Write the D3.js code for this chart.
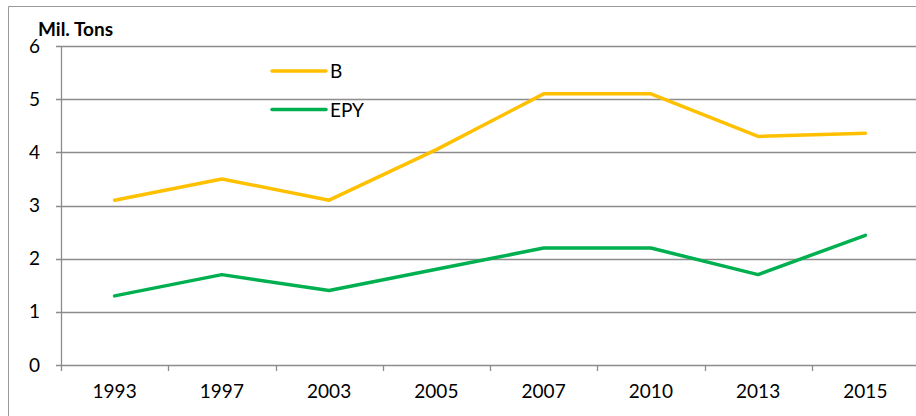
<!DOCTYPE html>
<html>
<head>
<meta charset="utf-8">
<script src="https://cdn.jsdelivr.net/npm/d3@7"></script>
<style>
  body { margin: 0; background: #fff; }
  svg { display: block; font-family: Lato, "Open Sans", sans-serif; }
  .tick-label { font-size: 19px; fill: #000; }
  .axis-title { font-size: 19px; font-weight: bold; fill: #000; }
  .legend-label { font-size: 19px; fill: #000; }
</style>
</head>
<body>
<svg id="chart"></svg>
<script>
// Data
const years = ["1993", "1997", "2003", "2005", "2007", "2010", "2013", "2015"];
const seriesB = [3.1, 3.5, 3.1, 4.05, 5.1, 5.1, 4.3, 4.36];
const seriesEPY = [1.3, 1.7, 1.4, 1.8, 2.2, 2.2, 1.7, 2.44];
const yTicks = [0, 1, 2, 3, 4, 5, 6];
const seriesNames = ["B", "EPY"];
const seriesColors = ["#FFC000", "#00B050"];

const width = 916, height = 416;
const margin = { top: 46, right: -3, bottom: 51, left: 61 };

const svg = d3.select("#chart").attr("width", width).attr("height", height);

// outer chart border (only left and top visible)
svg.append("path")
  .attr("d", `M8.5,${height} V6.5 H${width}`)
  .attr("fill", "none")
  .attr("stroke", "#9a9a9a")
  .attr("stroke-width", 1);

const x = d3.scaleBand()
  .domain(years)
  .range([margin.left, width - margin.right])
  .padding(0);

const y = d3.scaleLinear()
  .domain([0, 6])
  .range([height - margin.bottom, margin.top]);

const gridColor = "#8c8c8c";

// horizontal gridlines + left tick marks
svg.append("g")
  .selectAll("line")
  .data(yTicks)
  .join("line")
  .attr("x1", margin.left - 5)
  .attr("x2", width - margin.right)
  .attr("y1", d => Math.round(y(d)) + 0.5)
  .attr("y2", d => Math.round(y(d)) + 0.5)
  .attr("stroke", gridColor)
  .attr("stroke-width", 1.3);

// y axis line
svg.append("line")
  .attr("x1", margin.left + 0.5)
  .attr("x2", margin.left + 0.5)
  .attr("y1", y(6))
  .attr("y2", y(0) + 6)
  .attr("stroke", gridColor)
  .attr("stroke-width", 1.3);

// x tick marks at category boundaries
svg.append("g")
  .selectAll("line")
  .data(years.slice(1))
  .join("line")
  .attr("x1", d => Math.round(x(d)) + 0.5)
  .attr("x2", d => Math.round(x(d)) + 0.5)
  .attr("y1", y(0))
  .attr("y2", y(0) + 6)
  .attr("stroke", gridColor)
  .attr("stroke-width", 1.3);

// y tick labels
svg.append("g")
  .selectAll("text")
  .data(yTicks)
  .join("text")
  .attr("class", "tick-label")
  .attr("x", 40)
  .attr("y", d => y(d) + 6.5)
  .attr("text-anchor", "end")
  .text(d => d);

// x tick labels
svg.append("g")
  .selectAll("text")
  .data(years)
  .join("text")
  .attr("class", "tick-label")
  .attr("x", d => x(d) + x.bandwidth() / 2)
  .attr("y", 398)
  .attr("text-anchor", "middle")
  .text(d => d);

// axis title
svg.append("text")
  .attr("class", "axis-title")
  .attr("x", 38)
  .attr("y", 36)
  .text("Mil. Tons");

// lines
const line = d3.line()
  .x((d, i) => x(years[i]) + x.bandwidth() / 2)
  .y(d => y(d));

[seriesB, seriesEPY].forEach((vals, i) => {
  svg.append("path")
    .datum(vals)
    .attr("fill", "none")
    .attr("stroke", seriesColors[i])
    .attr("stroke-width", 3.5)
    .attr("stroke-linejoin", "round")
    .attr("stroke-linecap", "round")
    .attr("d", line);
});

// legend
const legend = svg.append("g");
seriesNames.forEach((name, i) => {
  const ly = 71 + i * 38.5;
  legend.append("line")
    .attr("x1", 272)
    .attr("x2", 326)
    .attr("y1", ly)
    .attr("y2", ly)
    .attr("stroke", seriesColors[i])
    .attr("stroke-width", 3.5)
    .attr("stroke-linecap", "round");
  legend.append("text")
    .attr("class", "legend-label")
    .attr("x", 330)
    .attr("y", ly + 7)
    .text(name);
});
</script>
</body>
</html>
